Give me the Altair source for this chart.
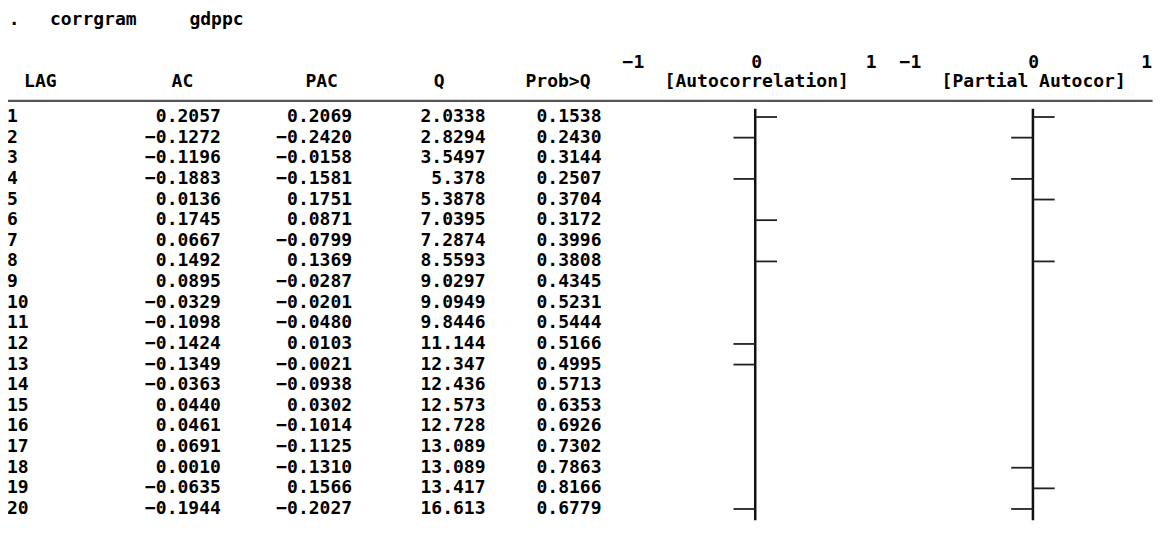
import altair as alt
import pandas as pd

lags = list(range(1, 21))
ac = [0.2057, -0.1272, -0.1196, -0.1883, 0.0136, 0.1745, 0.0667, 0.1492, 0.0895, -0.0329,
      -0.1098, -0.1424, -0.1349, -0.0363, 0.0440, 0.0461, 0.0691, 0.0010, -0.0635, -0.1944]
pac = [0.2069, -0.2420, -0.0158, -0.1581, 0.1751, 0.0871, -0.0799, 0.1369, -0.0287, -0.0201,
       -0.0480, 0.0103, -0.0021, -0.0938, 0.0302, -0.1014, -0.1125, -0.1310, 0.1566, -0.2027]
qstat = [2.0338, 2.8294, 3.5497, 5.378, 5.3878, 7.0395, 7.2874, 8.5593, 9.0297, 9.0949,
         9.8446, 11.144, 12.347, 12.436, 12.573, 12.728, 13.089, 13.089, 13.417, 16.613]
prob = [0.1538, 0.2430, 0.3144, 0.2507, 0.3704, 0.3172, 0.3996, 0.3808, 0.4345, 0.5231,
        0.5444, 0.5166, 0.4995, 0.5713, 0.6353, 0.6926, 0.7302, 0.7863, 0.8166, 0.6779]

title_tokens = [".", "corrgram", "gdppc"]
header_labels = ["LAG", "AC", "PAC", "Q", "Prob>Q", "[Autocorrelation]", "[Partial Autocor]"]
scale_labels = ["\u22121", "0", "1", "\u22121", "0", "1"]

# ---------------- layout: character columns / text lines of the results window ----------------
title_cols = [0.5, 5.95, 14.45]
header_cols = [2.3, 12.1, 21.7, 29.8, 38.0, 51.7, 70.8]
scale_cols = [43.2, 51.7, 59.6, 62.3, 70.8, 78.6]
AC_RIGHT, PAC_RIGHT, Q_RIGHT, PROB_RIGHT = 14.75, 23.8, 33, 41
AC_ZERO, PAC_ZERO = 51.6, 70.75
BAR_COLS_PER_CHAR = 1.5
TITLE_LINE, SCALE_LINE, HEADER_LINE, RULE_LINE, FIRST_ROW = 0.3, 2.38, 3.30, 4.22, 5
RULE_COLS = (0.0, 79.0)
VBAR_LINES = (4.6, 24.55)

FONT = "DejaVu Sans Mono"
FS = 18
INK = "#000000"

XS = alt.Scale(domain=[0.07, 79.03], nice=False, zero=False)
YS = alt.Scale(domain=[-0.284, 24.97], nice=False, zero=False, reverse=True)


def fmt4(v):
    return f"{v:.4f}".replace("-", "\u2212")


def fmtq(v):
    return f"{v:.5g}"


# ---------------- tables ----------------
center_rows = []
for t, c in zip(title_tokens, title_cols):
    center_rows.append({"label": t, "x": c, "y": TITLE_LINE})
for t, c in zip(scale_labels, scale_cols):
    center_rows.append({"label": t, "x": c, "y": SCALE_LINE})
for t, c in zip(header_labels, header_cols):
    center_rows.append({"label": t, "x": c, "y": HEADER_LINE})
center_df = pd.DataFrame(center_rows)

lag_df = pd.DataFrame({"label": [str(l) for l in lags], "x": 0.0,
                       "y": [FIRST_ROW + i for i in range(len(lags))]})

right_rows = []
for i in range(len(lags)):
    line = FIRST_ROW + i
    right_rows.append({"label": fmt4(ac[i]), "x": AC_RIGHT, "y": line})
    right_rows.append({"label": fmt4(pac[i]), "x": PAC_RIGHT, "y": line})
    right_rows.append({"label": fmtq(qstat[i]), "x": Q_RIGHT, "y": line})
    right_rows.append({"label": fmt4(prob[i]), "x": PROB_RIGHT, "y": line})
right_df = pd.DataFrame(right_rows)

bar_rows = []
for i in range(len(lags)):
    bar_rows.append({"v": ac[i], "zero": AC_ZERO, "y": FIRST_ROW + i})
    bar_rows.append({"v": pac[i], "zero": PAC_ZERO, "y": FIRST_ROW + i})
bar_df = pd.DataFrame(bar_rows)

axis_df = pd.DataFrame({"x": [AC_ZERO, PAC_ZERO], "y": VBAR_LINES[0], "y2": VBAR_LINES[1]})
rule_df = pd.DataFrame({"x": [RULE_COLS[0]], "x2": [RULE_COLS[1]], "y": [RULE_LINE]})


def text_layer(df, align):
    return alt.Chart(df).mark_text(
        align=align, baseline="middle", font=FONT, fontSize=FS, fontWeight="bold", color=INK
    ).encode(
        x=alt.X("x:Q", scale=XS, axis=None),
        y=alt.Y("y:Q", scale=YS, axis=None),
        text="label:N",
    )


centers = text_layer(center_df, "center")
lag_text = text_layer(lag_df, "left")
numbers = text_layer(right_df, "right")

hrule = alt.Chart(rule_df).mark_rule(color="#555555", strokeWidth=2.2).encode(
    x=alt.X("x:Q", scale=XS, axis=None),
    x2="x2:Q",
    y=alt.Y("y:Q", scale=YS, axis=None),
)

vaxes = alt.Chart(axis_df).mark_rule(color="#111111", strokeWidth=2.5).encode(
    x=alt.X("x:Q", scale=XS, axis=None),
    y=alt.Y("y:Q", scale=YS, axis=None),
    y2="y2:Q",
)

bars = alt.Chart(bar_df).transform_calculate(
    k="floor(abs(datum.v) * 8) * (datum.v < 0 ? -1 : 1)"
).transform_filter(
    "datum.k != 0"
).transform_calculate(
    end=f"datum.zero + datum.k * {BAR_COLS_PER_CHAR}"
).mark_rule(color="#222222", strokeWidth=1.8).encode(
    x=alt.X("zero:Q", scale=XS, axis=None),
    x2="end:Q",
    y=alt.Y("y:Q", scale=YS, axis=None),
)

chart = alt.layer(hrule, vaxes, bars, centers, lag_text, numbers).properties(
    width=1145, height=521, background="white", padding=0,
    autosize=alt.AutoSizeParams(type="none"),
).configure_view(stroke=None)

chart.save("out.html", embed_options={"renderer": "svg", "actions": False})
